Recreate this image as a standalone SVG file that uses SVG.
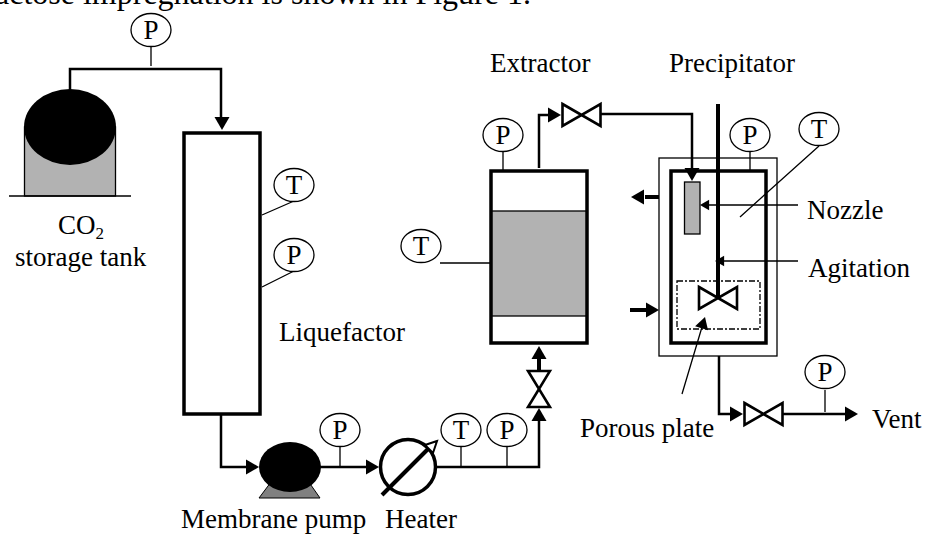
<svg xmlns="http://www.w3.org/2000/svg" width="925" height="534" viewBox="0 0 925 534">
<style>
text{font-family:"Liberation Serif","Times New Roman",serif;font-size:27px;fill:#000}
.g{fill:#fff;stroke:#000;stroke-width:1.3}
.s{fill:none;stroke:#000;stroke-width:1.3}
.p{fill:none;stroke:#000;stroke-width:2.5}
.t{fill:none;stroke:#000;stroke-width:4}
.v{fill:#fff;stroke:#000;stroke-width:2.6}
.b{fill:none;stroke:#000;stroke-width:3.5;stroke-linejoin:miter}
.c{text-anchor:middle}
</style>
<defs>
<g id="ah"><path d="M0 0L-13 -7.5L-13 7.5Z" fill="#000"/></g>
<g id="gauge"><ellipse class="g" cx="0" cy="0" rx="20" ry="16.5"/></g>
<g id="valve"><path class="v" d="M-19 -11L19 11L19 -11L-19 11Z"/></g>
</defs>
<text x="-5" y="4" style="font-size:32px">actose impregnation is shown in Figure 1.</text>
<g id="connectors">
<path class="p" d="M70 90V69H221V118"/><use href="#ah" transform="translate(222,130) rotate(90)"/>
<path class="p" d="M221 414V467H246"/><use href="#ah" transform="translate(259,467)"/>
<path class="p" d="M320 467H366"/><use href="#ah" transform="translate(379,467)"/>
<path class="p" d="M437 467H539V420"/><use href="#ah" transform="translate(539,408) rotate(-90)"/>
<path class="t" d="M539 371V356"/><use href="#ah" transform="translate(539,346) rotate(-90)"/>
<path class="p" d="M539 168V115H548"/><use href="#ah" transform="translate(561,115)"/>
<path class="p" d="M601 114H692V170"/>
<path class="t" d="M659 197H645"/><use href="#ah" transform="translate(631,197) rotate(180)"/>
<path class="t" d="M630 310H646"/><use href="#ah" transform="translate(659,310)"/>
<path class="p" d="M719 356V414H732"/><use href="#ah" transform="translate(743,414)"/>
<path class="p" d="M783 414H847"/><use href="#ah" transform="translate(858,414)"/>
<path class="s" d="M151 46V66M262 215L294 201M262 287L294 271M440 263H491M503 151V171M750 151V171M340 447V467M461 447V467M507 447V467M825 390V412M740 217L819 146"/>
<path class="s" d="M798 205H706M798 261H722M682 394L702 327"/>
<use href="#ah" transform="translate(700,205) rotate(180) scale(.7)"/>
<use href="#ah" transform="translate(715,261) rotate(180) scale(.7)"/>
<use href="#ah" transform="translate(705,317) rotate(-73) scale(.9)"/>
</g>
<g id="co2-tank">
<rect x="24.5" y="127" width="91" height="69" fill="#b2b2b2" stroke="#000" stroke-width="1.3"/>
<ellipse cx="70" cy="127" rx="46" ry="38" fill="#000"/>
<path class="s" d="M9 196H131"/>
<text x="58" y="234">CO<tspan style="font-size:17px" dy="5">2</tspan></text>
<text x="15" y="266">storage tank</text>
</g>
<g id="gauge-p1"><use href="#gauge" x="151" y="30"/><text class="c" x="151" y="39">P</text></g>
<g id="liquefactor">
<rect class="b" x="184" y="133" width="76" height="281"/>
<text x="279" y="341">Liquefactor</text>
</g>
<g id="gauge-t1"><use href="#gauge" x="294" y="185"/><text class="c" x="294" y="194">T</text></g>
<g id="gauge-p2"><use href="#gauge" x="294" y="255"/><text class="c" x="294" y="264">P</text></g>
<g id="pump">
<path d="M259 498L274 478H306L320 498Z" fill="#808080" stroke="#000" stroke-width="1"/>
<ellipse cx="290" cy="467" rx="31" ry="25" fill="#000"/>
<text x="181" y="528">Membrane pump</text>
</g>
<g id="gauge-p3"><use href="#gauge" x="340" y="430"/><text class="c" x="340" y="439">P</text></g>
<g id="heater">
<circle cx="408" cy="467" r="27.5" fill="#fff" stroke="#000" stroke-width="3.5"/>
<path d="M382 495L428 449" fill="none" stroke="#000" stroke-width="4"/>
<path d="M437 441L425 445L433 453Z" fill="#fff" stroke="#000" stroke-width="2"/>
<text x="385" y="528">Heater</text>
</g>
<g id="gauge-t2"><use href="#gauge" x="461" y="430"/><text class="c" x="461" y="439">T</text></g>
<g id="gauge-p4"><use href="#gauge" x="507" y="430"/><text class="c" x="507" y="439">P</text></g>
<g id="valve-in"><use href="#valve" transform="translate(539,389) rotate(90) scale(.95,1)"/></g>
<g id="extractor">
<rect x="491" y="211" width="96" height="105" fill="#b2b2b2" stroke="#000" stroke-width="1.3"/>
<rect class="b" x="491" y="171" width="96" height="172"/>
<text x="490" y="72">Extractor</text>
</g>
<g id="gauge-t3"><use href="#gauge" x="421" y="246"/><text class="c" x="421" y="255">T</text></g>
<g id="gauge-p5"><use href="#gauge" x="503" y="135"/><text class="c" x="503" y="144">P</text></g>
<g id="valve-top"><use href="#valve" x="581.5" y="115"/></g>
<g id="precipitator">
<rect x="659" y="158" width="118" height="198" fill="none" stroke="#000" stroke-width="1.3"/>
<rect class="b" x="671" y="171" width="95" height="172"/>
<rect x="684.5" y="182" width="15.5" height="52" fill="#b2b2b2" stroke="#000" stroke-width="1.3"/>
<use href="#ah" transform="translate(692,181) rotate(90)"/>
<rect x="677" y="281" width="83" height="48" fill="none" stroke="#000" stroke-width="1.3" stroke-dasharray="6 2 2 2"/>
<path d="M718 104V298" fill="none" stroke="#000" stroke-width="4"/>
<use href="#valve" x="718" y="298"/>
<text x="669" y="72">Precipitator</text>
<text x="807" y="219">Nozzle</text>
<text x="808" y="277">Agitation</text>
<text x="580" y="437">Porous plate</text>
</g>
<g id="gauge-p6"><use href="#gauge" x="750" y="135"/><text class="c" x="750" y="144">P</text></g>
<g id="gauge-t4"><use href="#gauge" x="819" y="129"/><text class="c" x="819" y="138">T</text></g>
<g id="valve-out"><use href="#valve" x="763.5" y="414"/></g>
<g id="gauge-p7"><use href="#gauge" x="825" y="372"/><text class="c" x="825" y="381">P</text></g>
<text x="872" y="428">Vent</text>
</svg>
